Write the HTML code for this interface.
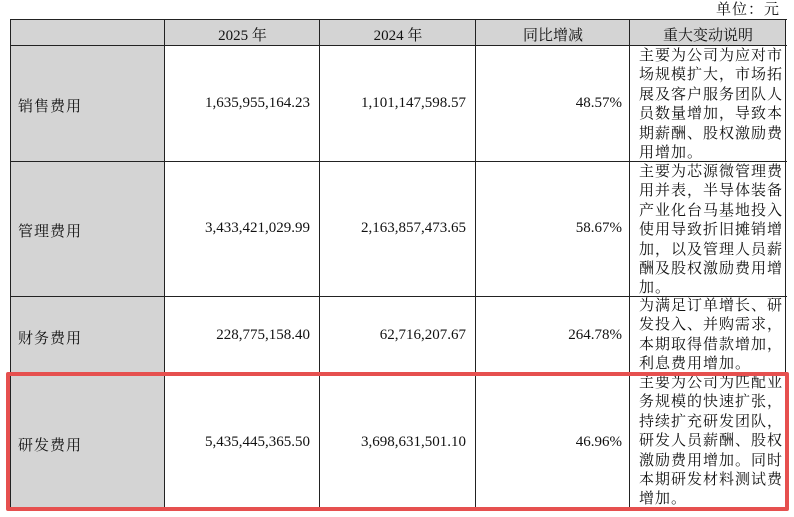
<!DOCTYPE html>
<html><head><meta charset="utf-8"><style>
body{margin:0;width:794px;height:517px;background:#fff;position:relative;overflow:hidden;font-family:"Liberation Serif","Noto Serif CJK SC",serif;color:#111;font-size:15px}
.a{position:absolute}
.h{position:absolute;height:1.3px;background:#222}
.v{position:absolute;width:1.3px;background:#222}
.g{position:absolute;background:#d4d4d4}
.n{position:absolute;text-align:right;white-space:nowrap}
.d{position:absolute;left:639px;line-height:19.4px;letter-spacing:1px;white-space:nowrap;font-size:15px}
.c{position:absolute;text-align:center}
</style></head><body>
<div class="a" style="right:14px;top:-2px;font-size:15px;letter-spacing:1px">单位：元</div>
<div class="g" style="left:10px;top:20px;width:776px;height:26px"></div>
<div class="g" style="left:10px;top:46px;width:155px;height:464px"></div>
<div class="h" style="left:10px;top:19px;width:777px"></div>
<div class="h" style="left:10px;top:45px;width:777px"></div>
<div class="h" style="left:10px;top:161px;width:777px"></div>
<div class="h" style="left:10px;top:296px;width:777px"></div>
<div class="h" style="left:10px;top:373px;width:777px"></div>
<div class="h" style="left:10px;top:509px;width:777px"></div>
<div class="v" style="left:10px;top:19px;height:491px"></div>
<div class="v" style="left:164px;top:19px;height:491px"></div>
<div class="v" style="left:319px;top:19px;height:491px"></div>
<div class="v" style="left:475px;top:19px;height:491px"></div>
<div class="v" style="left:629px;top:19px;height:491px"></div>
<div class="v" style="left:785px;top:19px;height:491px"></div>
<div class="c" style="left:165px;width:155px;top:24px">2025 年</div>
<div class="c" style="left:320px;width:156px;top:24px">2024 年</div>
<div class="c" style="left:476px;width:154px;top:24px">同比增减</div>
<div class="c" style="left:630px;width:156px;top:24px">重大变动说明</div>
<div class="a" style="left:18px;top:95px;letter-spacing:1px">销售费用</div>
<div class="a" style="left:18px;top:220px;letter-spacing:1px">管理费用</div>
<div class="a" style="left:18px;top:327px;letter-spacing:1px">财务费用</div>
<div class="a" style="left:18px;top:434px;letter-spacing:1px">研发费用</div>
<div class="n" style="right:484px;top:95px">1,635,955,164.23</div>
<div class="n" style="right:328px;top:95px">1,101,147,598.57</div>
<div class="n" style="right:172px;top:95px">48.57%</div>
<div class="n" style="right:484px;top:220px">3,433,421,029.99</div>
<div class="n" style="right:328px;top:220px">2,163,857,473.65</div>
<div class="n" style="right:172px;top:220px">58.67%</div>
<div class="n" style="right:484px;top:327px">228,775,158.40</div>
<div class="n" style="right:328px;top:327px">62,716,207.67</div>
<div class="n" style="right:172px;top:327px">264.78%</div>
<div class="n" style="right:484px;top:434px">5,435,445,365.50</div>
<div class="n" style="right:328px;top:434px">3,698,631,501.10</div>
<div class="n" style="right:172px;top:434px">46.96%</div>
<div class="d" style="top:47px">主要为公司为应对市<br>场规模扩大，市场拓<br>展及客户服务团队人<br>员数量增加，导致本<br>期薪酬、股权激励费<br>用增加。</div>
<div class="d" style="top:163px">主要为芯源微管理费<br>用并表，半导体装备<br>产业化台马基地投入<br>使用导致折旧摊销增<br>加，以及管理人员薪<br>酬及股权激励费用增<br>加。</div>
<div class="d" style="top:297px">为满足订单增长、研<br>发投入、并购需求，<br>本期取得借款增加，<br>利息费用增加。</div>
<div class="d" style="top:374px">主要为公司为匹配业<br>务规模的快速扩张，<br>持续扩充研发团队，<br>研发人员薪酬、股权<br>激励费用增加。同时<br>本期研发材料测试费<br>增加。</div>
<div class="a" style="left:6px;top:372px;width:775px;height:131px;border:4px solid #e6504f;border-radius:2px"></div>
</body></html>
